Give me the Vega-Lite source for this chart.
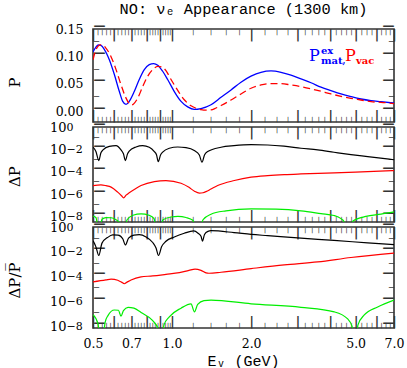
{
"$schema": "https://vega.github.io/schema/vega-lite/v6.json",
"autosize": {"type": "pad"},
"padding": {"left": 6, "top": 0, "right": 0, "bottom": 0},
"background": "white",
"config": {
  "view": {"stroke": "#333333", "strokeWidth": 1.6},
  "font": "DejaVu Serif",
  "axis": {"grid": false, "domain": false, "ticks": false, "labelFont": "DejaVu Serif", "labelFontSize": 12.5, "labelFontWeight": "bold", "labelColor": "#000", "titleFont": "DejaVu Serif", "titleFontWeight": "normal", "titleColor": "#000", "titleFontSize": 15}
},
"datasets": {
  "top": [
    {"E":0.5,"P":0.108,"s":"mat"},{"E":0.513,"P":0.117,"s":"mat"},{"E":0.524,"P":0.121,"s":"mat"},{"E":0.536,"P":0.12,"s":"mat"},{"E":0.552,"P":0.113,"s":"mat"},{"E":0.577,"P":0.094,"s":"mat"},{"E":0.603,"P":0.067,"s":"mat"},{"E":0.63,"P":0.036,"s":"mat"},{"E":0.649,"P":0.018,"s":"mat"},{"E":0.668,"P":0.0125,"s":"mat"},{"E":0.687,"P":0.018,"s":"mat"},{"E":0.718,"P":0.036,"s":"mat"},{"E":0.75,"P":0.058,"s":"mat"},{"E":0.784,"P":0.076,"s":"mat"},{"E":0.819,"P":0.085,"s":"mat"},{"E":0.851,"P":0.087,"s":"mat"},{"E":0.882,"P":0.084,"s":"mat"},{"E":0.921,"P":0.073,"s":"mat"},{"E":0.962,"P":0.058,"s":"mat"},{"E":1.02,"P":0.036,"s":"mat"},{"E":1.082,"P":0.018,"s":"mat"},{"E":1.147,"P":0.008,"s":"mat"},{"E":1.215,"P":0.0035,"s":"mat"},{"E":1.289,"P":0.005,"s":"mat"},{"E":1.407,"P":0.012,"s":"mat"},{"E":1.536,"P":0.0255,"s":"mat"},{"E":1.677,"P":0.039,"s":"mat"},{"E":1.83,"P":0.053,"s":"mat"},{"E":1.998,"P":0.064,"s":"mat"},{"E":2.181,"P":0.071,"s":"mat"},{"E":2.381,"P":0.0735,"s":"mat"},{"E":2.599,"P":0.071,"s":"mat"},{"E":2.837,"P":0.066,"s":"mat"},{"E":3.097,"P":0.059,"s":"mat"},{"E":3.381,"P":0.052,"s":"mat"},{"E":3.691,"P":0.044,"s":"mat"},{"E":4.029,"P":0.0376,"s":"mat"},{"E":4.398,"P":0.0316,"s":"mat"},{"E":4.8,"P":0.0267,"s":"mat"},{"E":5.24,"P":0.0224,"s":"mat"},{"E":5.72,"P":0.0194,"s":"mat"},{"E":6.245,"P":0.0175,"s":"mat"},{"E":7.0,"P":0.015,"s":"mat"},
    {"E":0.5,"P":0.094,"s":"vac"},{"E":0.513,"P":0.112,"s":"vac"},{"E":0.533,"P":0.121,"s":"vac"},{"E":0.545,"P":0.121,"s":"vac"},{"E":0.556,"P":0.117,"s":"vac"},{"E":0.585,"P":0.1,"s":"vac"},{"E":0.612,"P":0.076,"s":"vac"},{"E":0.639,"P":0.0485,"s":"vac"},{"E":0.668,"P":0.024,"s":"vac"},{"E":0.687,"P":0.014,"s":"vac"},{"E":0.698,"P":0.0115,"s":"vac"},{"E":0.712,"P":0.013,"s":"vac"},{"E":0.74,"P":0.024,"s":"vac"},{"E":0.773,"P":0.045,"s":"vac"},{"E":0.808,"P":0.064,"s":"vac"},{"E":0.844,"P":0.076,"s":"vac"},{"E":0.882,"P":0.082,"s":"vac"},{"E":0.913,"P":0.081,"s":"vac"},{"E":0.948,"P":0.074,"s":"vac"},{"E":0.991,"P":0.058,"s":"vac"},{"E":1.051,"P":0.038,"s":"vac"},{"E":1.113,"P":0.021,"s":"vac"},{"E":1.181,"P":0.01,"s":"vac"},{"E":1.252,"P":0.0045,"s":"vac"},{"E":1.289,"P":0.003,"s":"vac"},{"E":1.35,"P":0.002,"s":"vac"},{"E":1.407,"P":0.0025,"s":"vac"},{"E":1.47,"P":0.006,"s":"vac"},{"E":1.536,"P":0.0105,"s":"vac"},{"E":1.677,"P":0.0206,"s":"vac"},{"E":1.83,"P":0.0316,"s":"vac"},{"E":1.998,"P":0.042,"s":"vac"},{"E":2.181,"P":0.048,"s":"vac"},{"E":2.381,"P":0.0504,"s":"vac"},{"E":2.599,"P":0.0504,"s":"vac"},{"E":2.837,"P":0.048,"s":"vac"},{"E":3.097,"P":0.045,"s":"vac"},{"E":3.381,"P":0.041,"s":"vac"},{"E":3.691,"P":0.0365,"s":"vac"},{"E":4.029,"P":0.0316,"s":"vac"},{"E":4.398,"P":0.0274,"s":"vac"},{"E":4.8,"P":0.0237,"s":"vac"},{"E":5.24,"P":0.0206,"s":"vac"},{"E":5.72,"P":0.0175,"s":"vac"},{"E":6.245,"P":0.0164,"s":"vac"},{"E":7.0,"P":0.0139,"s":"vac"}
  ],
  "dp": [
    {"E":0.5,"v":1.55e-2,"s":"k"},{"E":0.513,"v":6.31e-3,"s":"k"},{"E":0.526,"v":1.0e-3,"s":"k"},{"E":0.536,"v":5.01e-3,"s":"k"},{"E":0.546,"v":8.91e-3,"s":"k"},{"E":0.577,"v":1.86e-2,"s":"k"},{"E":0.612,"v":2.14e-2,"s":"k"},{"E":0.639,"v":8.91e-3,"s":"k"},{"E":0.653,"v":3.98e-3,"s":"k"},{"E":0.664,"v":1.0e-3,"s":"k"},{"E":0.677,"v":3.98e-3,"s":"k"},{"E":0.687,"v":7.08e-3,"s":"k"},{"E":0.729,"v":1.62e-2,"s":"k"},{"E":0.773,"v":2.14e-2,"s":"k"},{"E":0.819,"v":1.55e-2,"s":"k"},{"E":0.856,"v":6.31e-3,"s":"k"},{"E":0.873,"v":3.16e-3,"s":"k"},{"E":0.886,"v":7.94e-4,"s":"k"},{"E":0.904,"v":3.16e-3,"s":"k"},{"E":0.921,"v":5.62e-3,"s":"k"},{"E":0.976,"v":1.26e-2,"s":"k"},{"E":1.051,"v":1.62e-2,"s":"k"},{"E":1.13,"v":1.41e-2,"s":"k"},{"E":1.215,"v":7.94e-3,"s":"k"},{"E":1.27,"v":3.16e-3,"s":"k"},{"E":1.3,"v":7.08e-4,"s":"k"},{"E":1.329,"v":3.16e-3,"s":"k"},{"E":1.367,"v":6.31e-3,"s":"k"},{"E":1.536,"v":1.55e-2,"s":"k"},{"E":1.721,"v":2.14e-2,"s":"k"},{"E":2.0,"v":2.63e-2,"s":"k"},{"E":2.313,"v":2.45e-2,"s":"k"},{"E":2.668,"v":1.91e-2,"s":"k"},{"E":3.097,"v":1.26e-2,"s":"k"},{"E":3.585,"v":8.91e-3,"s":"k"},{"E":4.136,"v":5.5e-3,"s":"k"},{"E":4.8,"v":3.39e-3,"s":"k"},{"E":5.558,"v":2.24e-3,"s":"k"},{"E":7.0,"v":1.17e-3,"s":"k"},
    {"E":0.5,"v":5.75e-6,"s":"r"},{"E":0.536,"v":6.61e-6,"s":"r"},{"E":0.56,"v":5.62e-6,"s":"r"},{"E":0.586,"v":4.17e-6,"s":"r"},{"E":0.621,"v":1.48e-6,"s":"r"},{"E":0.642,"v":7.08e-7,"s":"r"},{"E":0.654,"v":4.57e-7,"s":"r"},{"E":0.668,"v":7.94e-7,"s":"r"},{"E":0.687,"v":1.29e-6,"s":"r"},{"E":0.723,"v":2.82e-6,"s":"r"},{"E":0.762,"v":5.75e-6,"s":"r"},{"E":0.856,"v":1.32e-5,"s":"r"},{"E":0.948,"v":1.62e-5,"s":"r"},{"E":1.082,"v":9.33e-6,"s":"r"},{"E":1.16,"v":3.98e-6,"s":"r"},{"E":1.217,"v":1.78e-6,"s":"r"},{"E":1.27,"v":1.2e-6,"s":"r"},{"E":1.312,"v":1.32e-6,"s":"r"},{"E":1.347,"v":1.66e-6,"s":"r"},{"E":1.407,"v":2.82e-6,"s":"r"},{"E":1.492,"v":5.75e-6,"s":"r"},{"E":1.726,"v":1.62e-5,"s":"r"},{"E":2.0,"v":3.24e-5,"s":"r"},{"E":2.313,"v":4.47e-5,"s":"r"},{"E":2.675,"v":5.5e-5,"s":"r"},{"E":3.097,"v":6.31e-5,"s":"r"},{"E":4.147,"v":7.76e-5,"s":"r"},{"E":5.558,"v":1.02e-4,"s":"r"},{"E":7.0,"v":1.26e-4,"s":"r"},
    {"E":0.5,"v":1.07e-8,"s":"g"},{"E":0.513,"v":7.94e-9,"s":"g"},{"E":0.527,"v":3e-10,"s":"g"},{"E":0.541,"v":5.62e-9,"s":"g"},{"E":0.56,"v":7.94e-9,"s":"g"},{"E":0.586,"v":7.59e-9,"s":"g"},{"E":0.612,"v":5.01e-9,"s":"g"},{"E":0.628,"v":3.16e-9,"s":"g"},{"E":0.65,"v":1e-10,"s":"g"},{"E":0.674,"v":5.01e-9,"s":"g"},{"E":0.71,"v":1.26e-8,"s":"g"},{"E":0.762,"v":1.7e-8,"s":"g"},{"E":0.817,"v":1.26e-8,"s":"g"},{"E":0.854,"v":6.31e-9,"s":"g"},{"E":0.884,"v":1e-10,"s":"g"},{"E":0.924,"v":5.01e-9,"s":"g"},{"E":0.991,"v":8.91e-9,"s":"g"},{"E":1.053,"v":1.0e-8,"s":"g"},{"E":1.13,"v":7.94e-9,"s":"g"},{"E":1.2,"v":4.47e-9,"s":"g"},{"E":1.255,"v":1e-10,"s":"g"},{"E":1.312,"v":5.01e-9,"s":"g"},{"E":1.407,"v":1.58e-8,"s":"g"},{"E":1.605,"v":3.16e-8,"s":"g"},{"E":2.0,"v":4.79e-8,"s":"g"},{"E":2.487,"v":4.47e-8,"s":"g"},{"E":3.097,"v":3.16e-8,"s":"g"},{"E":3.691,"v":1.78e-8,"s":"g"},{"E":4.136,"v":1.2e-8,"s":"g"},{"E":4.398,"v":6.31e-9,"s":"g"},{"E":4.515,"v":3.55e-9,"s":"g"},{"E":4.676,"v":1e-10,"s":"g"},{"E":4.885,"v":3.98e-9,"s":"g"},{"E":5.475,"v":1.0e-8,"s":"g"},{"E":6.245,"v":1.58e-8,"s":"g"},{"E":7.0,"v":2.51e-8,"s":"g"}
  ],
  "rel": [
    {"E":0.5,"v":7.94e-2,"s":"k"},{"E":0.513,"v":2.5e-2,"s":"k"},{"E":0.526,"v":5.01e-3,"s":"k"},{"E":0.541,"v":5.01e-2,"s":"k"},{"E":0.568,"v":1.41e-1,"s":"k"},{"E":0.594,"v":2.29e-1,"s":"k"},{"E":0.623,"v":2.24e-1,"s":"k"},{"E":0.649,"v":1.12e-1,"s":"k"},{"E":0.664,"v":3.55e-2,"s":"k"},{"E":0.683,"v":1.26e-1,"s":"k"},{"E":0.716,"v":2.24e-1,"s":"k"},{"E":0.75,"v":2.4e-1,"s":"k"},{"E":0.796,"v":1.58e-1,"s":"k"},{"E":0.844,"v":5.62e-2,"s":"k"},{"E":0.869,"v":2.0e-2,"s":"k"},{"E":0.888,"v":5.01e-3,"s":"k"},{"E":0.912,"v":2.51e-2,"s":"k"},{"E":0.948,"v":7.08e-2,"s":"k"},{"E":1.02,"v":1.58e-1,"s":"k"},{"E":1.113,"v":3.16e-1,"s":"k"},{"E":1.209,"v":4.79e-1,"s":"k"},{"E":1.256,"v":3.16e-1,"s":"k"},{"E":1.289,"v":1.78e-1,"s":"k"},{"E":1.306,"v":7.08e-2,"s":"k"},{"E":1.329,"v":2.51e-1,"s":"k"},{"E":1.37,"v":4.47e-1,"s":"k"},{"E":1.407,"v":5.01e-1,"s":"k"},{"E":1.721,"v":3.55e-1,"s":"k"},{"E":2.0,"v":2.51e-1,"s":"k"},{"E":2.313,"v":2.0e-1,"s":"k"},{"E":3.097,"v":1.26e-1,"s":"k"},{"E":4.136,"v":8.32e-2,"s":"k"},{"E":5.558,"v":5.25e-2,"s":"k"},{"E":7.0,"v":3.72e-2,"s":"k"},
    {"E":0.5,"v":3.72e-5,"s":"r"},{"E":0.56,"v":5.37e-5,"s":"r"},{"E":0.586,"v":6.31e-5,"s":"r"},{"E":0.621,"v":5.01e-5,"s":"r"},{"E":0.642,"v":3.55e-5,"s":"r"},{"E":0.658,"v":2.63e-5,"s":"r"},{"E":0.674,"v":3.55e-5,"s":"r"},{"E":0.698,"v":5.37e-5,"s":"r"},{"E":0.762,"v":9.55e-5,"s":"r"},{"E":0.844,"v":1.12e-4,"s":"r"},{"E":0.948,"v":1.51e-4,"s":"r"},{"E":1.066,"v":2.09e-4,"s":"r"},{"E":1.16,"v":3.16e-4,"s":"r"},{"E":1.223,"v":3.98e-4,"s":"r"},{"E":1.289,"v":3.16e-4,"s":"r"},{"E":1.347,"v":2.0e-4,"s":"r"},{"E":1.382,"v":1.86e-4,"s":"r"},{"E":1.536,"v":2.24e-4,"s":"r"},{"E":2.0,"v":4.37e-4,"s":"r"},{"E":2.675,"v":8.71e-4,"s":"r"},{"E":3.585,"v":1.51e-3,"s":"r"},{"E":4.8,"v":3.47e-3,"s":"r"},{"E":7.0,"v":7.94e-3,"s":"r"},
    {"E":0.5,"v":8.32e-8,"s":"g"},{"E":0.522,"v":1.58e-8,"s":"g"},{"E":0.539,"v":1e-10,"s":"g"},{"E":0.556,"v":2.0e-8,"s":"g"},{"E":0.57,"v":7.08e-8,"s":"g"},{"E":0.603,"v":2.0e-7,"s":"g"},{"E":0.625,"v":1.91e-7,"s":"g"},{"E":0.639,"v":6.31e-8,"s":"g"},{"E":0.653,"v":1.78e-7,"s":"g"},{"E":0.68,"v":3.31e-7,"s":"g"},{"E":0.716,"v":2.82e-7,"s":"g"},{"E":0.762,"v":1.26e-7,"s":"g"},{"E":0.844,"v":2.75e-8,"s":"g"},{"E":0.884,"v":6.31e-9,"s":"g"},{"E":0.908,"v":1e-10,"s":"g"},{"E":0.932,"v":1.26e-8,"s":"g"},{"E":0.976,"v":5.62e-8,"s":"g"},{"E":1.082,"v":2.82e-7,"s":"g"},{"E":1.181,"v":6.31e-7,"s":"g"},{"E":1.217,"v":1.41e-7,"s":"g"},{"E":1.252,"v":5.62e-7,"s":"g"},{"E":1.323,"v":1.15e-6,"s":"g"},{"E":1.407,"v":1.26e-6,"s":"g"},{"E":2.0,"v":6.31e-7,"s":"g"},{"E":3.097,"v":3.31e-7,"s":"g"},{"E":4.147,"v":1.41e-7,"s":"g"},{"E":4.664,"v":3.8e-8,"s":"g"},{"E":4.843,"v":1.0e-8,"s":"g"},{"E":4.972,"v":1e-10,"s":"g"},{"E":5.105,"v":1.26e-8,"s":"g"},{"E":5.394,"v":7.94e-8,"s":"g"},{"E":6.067,"v":3.55e-7,"s":"g"},{"E":7.0,"v":1.29e-6,"s":"g"}
  ]
},
"spacing": 5,
"bounds": "flush",
"vconcat": [
{
  "width": 301, "height": 93,
  "title": {"text": "NO: νₑ Appearance (1300 km)", "fontSize": 15.3, "fontWeight": "normal", "font": "Liberation Mono", "offset": 2, "anchor": "middle", "frame": "group", "color": "#000"},
  "data": {"name": "top"},
  "layer": [
    {"transform": [{"filter": "datum.s == 'mat'"}],
     "mark": {"type": "line", "color": "#0000ff", "strokeWidth": 1.3, "clip": true, "interpolate": "monotone"},
     "encoding": {
       "x": {"field": "E", "type": "quantitative", "scale": {"type": "log", "domain": [0.5, 7], "nice": false}, "axis": {"orient": "bottom", "values": [0.5,0.6,0.7,0.8,0.9,1,2,3,4,5,6,7], "labelExpr": "'|'", "labelFont": "DejaVu Sans", "labelFontSize": 12, "labelBaseline": "alphabetic", "labelPadding": -2.8, "labelColor": "#333333", "labelFlush": false, "labelOverlap": false, "labelAngle": 0, "title": null}},
       "y": {"field": "P", "type": "quantitative", "scale": {"domain": [-0.0195, 0.15], "nice": false, "zero": false}, "axis": {"orient": "left", "values": [0, 0.05, 0.1, 0.15], "format": ".2f", "labelFontWeight": "normal", "labelPadding": 10, "labelFlush": false, "labelOverlap": false, "title": "P", "titleX": -71, "titleY": 53, "titleAngle": 270, "titleBaseline": "bottom"}}
     }},
    {"transform": [{"filter": "datum.s == 'vac'"}],
     "mark": {"type": "line", "color": "#ff0000", "strokeWidth": 1.3, "strokeDash": [7, 4], "clip": true, "interpolate": "monotone"},
     "encoding": {
       "x": {"field": "E", "type": "quantitative", "axis": {"orient": "top", "values": [0.5,0.6,0.7,0.8,0.9,1,2,3,4,5,6,7], "labelExpr": "'|'", "labelFont": "DejaVu Sans", "labelFontSize": 12, "labelBaseline": "alphabetic", "labelPadding": -9.1, "labelColor": "#333333", "labelFlush": false, "labelOverlap": false, "labelAngle": 0, "title": null}},
       "y": {"field": "P", "type": "quantitative", "axis": {"orient": "right", "values": [0, 0.05, 0.1, 0.15], "labelExpr": "'—'", "labelFont": "DejaVu Sans", "labelFontSize": 12, "labelBaseline": "alphabetic", "labelDy": 3.5, "labelAlign": "right", "labelPadding": 0, "labelColor": "#333333", "labelFlush": false, "labelOverlap": false, "title": null}}
     }},
    {"transform": [{"filter": "datum.s == 'vac'"}],
     "mark": {"type": "line", "strokeOpacity": 0},
     "encoding": {
       "x": {"field": "E", "type": "quantitative", "axis": {"orient": "bottom", "values": [0.52,0.54,0.56,0.58,0.62,0.64,0.66,0.68,0.72,0.74,0.76,0.78,0.82,0.84,0.86,0.88,0.92,0.94,0.96,0.98,1.2,1.4,1.6,1.8,2.25,2.5,2.75,3.2,3.4,3.6,3.8,4.2,4.4,4.6,4.8,5.25,5.5,5.75,6.25,6.5,6.75], "labelExpr": "'|'", "labelFont": "DejaVu Sans", "labelFontSize": 5.5, "labelBaseline": "alphabetic", "labelPadding": -1.3, "labelColor": "#333333", "labelFlush": false, "labelOverlap": false, "labelAngle": 0, "title": null}},
       "y": {"field": "P", "type": "quantitative", "axis": {"orient": "left", "values": [0.025, 0.075, 0.125], "labelExpr": "'—'", "labelFont": "DejaVu Sans", "labelFontSize": 6, "labelBaseline": "alphabetic", "labelDy": 1.75, "labelAlign": "left", "labelPadding": 0, "labelColor": "#333333", "labelFlush": false, "labelOverlap": false, "title": null}}
     }},
    {"transform": [{"filter": "datum.s == 'vac'"}],
     "mark": {"type": "line", "strokeOpacity": 0},
     "encoding": {
       "x": {"field": "E", "type": "quantitative", "axis": {"orient": "top", "values": [0.52,0.54,0.56,0.58,0.62,0.64,0.66,0.68,0.72,0.74,0.76,0.78,0.82,0.84,0.86,0.88,0.92,0.94,0.96,0.98,1.2,1.4,1.6,1.8,2.25,2.5,2.75,3.2,3.4,3.6,3.8,4.2,4.4,4.6,4.8,5.25,5.5,5.75,6.25,6.5,6.75], "labelExpr": "'|'", "labelFont": "DejaVu Sans", "labelFontSize": 5.5, "labelBaseline": "alphabetic", "labelPadding": -4.2, "labelColor": "#333333", "labelFlush": false, "labelOverlap": false, "labelAngle": 0, "title": null}},
       "y": {"field": "P", "type": "quantitative", "axis": {"orient": "right", "values": [0.025, 0.075, 0.125], "labelExpr": "'—'", "labelFont": "DejaVu Sans", "labelFontSize": 6, "labelBaseline": "alphabetic", "labelDy": 1.75, "labelAlign": "right", "labelPadding": 0, "labelColor": "#333333", "labelFlush": false, "labelOverlap": false, "title": null}}
     }},
    {"transform": [{"filter": "datum.s == 'vac'"}],
     "mark": {"type": "line", "strokeOpacity": 0},
     "encoding": {
       "x": {"field": "E", "type": "quantitative", "axis": null},
       "y": {"field": "P", "type": "quantitative", "axis": {"orient": "left", "values": [0, 0.05, 0.1, 0.15], "labelExpr": "'—'", "labelFont": "DejaVu Sans", "labelFontSize": 12, "labelBaseline": "alphabetic", "labelDy": 3.5, "labelAlign": "left", "labelPadding": 0, "labelColor": "#333333", "labelFlush": false, "labelOverlap": false, "title": null}}
     }},
    {"data": {"values": [{}]},
     "mark": {"type": "text", "text": "P", "color": "#0000ff", "fontSize": 16, "align": "left", "baseline": "middle", "font": "DejaVu Serif"},
     "encoding": {"x": {"datum": 3.32, "type": "quantitative", "axis": null}, "y": {"datum": 0.1, "type": "quantitative", "axis": null}}},
    {"data": {"values": [{}]},
     "mark": {"type": "text", "text": "ex", "color": "#0000ff", "fontSize": 10, "fontWeight": "bold", "align": "left", "baseline": "middle", "dx": 12, "dy": -5.5, "font": "DejaVu Serif"},
     "encoding": {"x": {"datum": 3.32, "type": "quantitative", "axis": null}, "y": {"datum": 0.1, "type": "quantitative", "axis": null}}},
    {"data": {"values": [{}]},
     "mark": {"type": "text", "text": "mat", "color": "#0000ff", "fontSize": 10, "fontWeight": "bold", "align": "left", "baseline": "middle", "dx": 12, "dy": 4.5, "font": "DejaVu Serif"},
     "encoding": {"x": {"datum": 3.32, "type": "quantitative", "axis": null}, "y": {"datum": 0.1, "type": "quantitative", "axis": null}}},
    {"data": {"values": [{}]},
     "mark": {"type": "text", "text": ",", "color": "#0000ff", "fontSize": 12, "align": "left", "baseline": "middle", "dx": 33, "dy": 3, "font": "DejaVu Serif"},
     "encoding": {"x": {"datum": 3.32, "type": "quantitative", "axis": null}, "y": {"datum": 0.1, "type": "quantitative", "axis": null}}},
    {"data": {"values": [{}]},
     "mark": {"type": "text", "text": "P", "color": "#ff0000", "fontSize": 16, "align": "left", "baseline": "middle", "dx": 36, "font": "DejaVu Serif"},
     "encoding": {"x": {"datum": 3.32, "type": "quantitative", "axis": null}, "y": {"datum": 0.1, "type": "quantitative", "axis": null}}},
    {"data": {"values": [{}]},
     "mark": {"type": "text", "text": "vac", "color": "#ff0000", "fontSize": 10, "fontWeight": "bold", "align": "left", "baseline": "middle", "dx": 47, "dy": 4.5, "font": "DejaVu Serif"},
     "encoding": {"x": {"datum": 3.32, "type": "quantitative", "axis": null}, "y": {"datum": 0.1, "type": "quantitative", "axis": null}}}
  ],
  "resolve": {"axis": {"x": "independent", "y": "independent"}}
},
{
  "width": 301, "height": 95,
  "data": {"name": "dp"},
  "layer": [
    {"transform": [{"filter": "datum.s == 'k'"}],
     "mark": {"type": "line", "color": "#000000", "strokeWidth": 1.2, "clip": true, "interpolate": "monotone"},
     "encoding": {
       "x": {"field": "E", "type": "quantitative", "scale": {"type": "log", "domain": [0.5, 7], "nice": false}, "axis": {"orient": "bottom", "values": [0.5,0.6,0.7,0.8,0.9,1,2,3,4,5,6,7], "labelExpr": "'|'", "labelFont": "DejaVu Sans", "labelFontSize": 12, "labelBaseline": "alphabetic", "labelPadding": -2.8, "labelColor": "#333333", "labelFlush": false, "labelOverlap": false, "labelAngle": 0, "title": null}},
       "y": {"field": "v", "type": "quantitative", "scale": {"type": "log", "domain": [3.162e-9, 1], "nice": false}, "axis": {"orient": "left", "values": [1e-8, 1e-6, 1e-4, 1e-2, 1], "labelFontWeight": "normal", "labelPadding": 27, "labelFontSize": 13, "labelFlush": false, "labelOverlap": false, "labelExpr": "'10'", "title": "ΔP", "titleX": -71, "titleY": 49, "titleAngle": 270, "titleBaseline": "bottom"}}
     }},
    {"transform": [{"filter": "datum.s == 'r'"}],
     "mark": {"type": "line", "color": "#ff0000", "strokeWidth": 1.2, "clip": true, "interpolate": "monotone"},
     "encoding": {
       "x": {"field": "E", "type": "quantitative", "axis": {"orient": "top", "values": [0.5,0.6,0.7,0.8,0.9,1,2,3,4,5,6,7], "labelExpr": "'|'", "labelFont": "DejaVu Sans", "labelFontSize": 12, "labelBaseline": "alphabetic", "labelPadding": -9.1, "labelColor": "#333333", "labelFlush": false, "labelOverlap": false, "labelAngle": 0, "title": null}},
       "y": {"field": "v", "type": "quantitative", "axis": {"orient": "right", "values": [1e-8, 1e-6, 1e-4, 1e-2, 1], "labelExpr": "'—'", "labelFont": "DejaVu Sans", "labelFontSize": 12, "labelBaseline": "alphabetic", "labelDy": 3.5, "labelAlign": "right", "labelPadding": 0, "labelColor": "#333333", "labelFlush": false, "labelOverlap": false, "title": null}}
     }},
    {"transform": [{"filter": "datum.s == 'g'"}],
     "mark": {"type": "line", "color": "#00ee00", "strokeWidth": 1.2, "clip": true, "interpolate": "monotone"},
     "encoding": {
       "x": {"field": "E", "type": "quantitative", "axis": {"orient": "bottom", "values": [0.52,0.54,0.56,0.58,0.62,0.64,0.66,0.68,0.72,0.74,0.76,0.78,0.82,0.84,0.86,0.88,0.92,0.94,0.96,0.98,1.2,1.4,1.6,1.8,2.25,2.5,2.75,3.2,3.4,3.6,3.8,4.2,4.4,4.6,4.8,5.25,5.5,5.75,6.25,6.5,6.75], "labelExpr": "'|'", "labelFont": "DejaVu Sans", "labelFontSize": 5.5, "labelBaseline": "alphabetic", "labelPadding": -1.3, "labelColor": "#333333", "labelFlush": false, "labelOverlap": false, "labelAngle": 0, "title": null}},
       "y": {"field": "v", "type": "quantitative", "axis": {"orient": "left", "values": [1e-7, 1e-5, 1e-3, 1e-1], "labelExpr": "'—'", "labelFont": "DejaVu Sans", "labelFontSize": 6, "labelBaseline": "alphabetic", "labelDy": 1.75, "labelAlign": "left", "labelPadding": 0, "labelColor": "#333333", "labelFlush": false, "labelOverlap": false, "title": null}}
     }},
    {"transform": [{"filter": "datum.s == 'r'"}],
     "mark": {"type": "line", "strokeOpacity": 0},
     "encoding": {
       "x": {"field": "E", "type": "quantitative", "axis": {"orient": "top", "values": [0.52,0.54,0.56,0.58,0.62,0.64,0.66,0.68,0.72,0.74,0.76,0.78,0.82,0.84,0.86,0.88,0.92,0.94,0.96,0.98,1.2,1.4,1.6,1.8,2.25,2.5,2.75,3.2,3.4,3.6,3.8,4.2,4.4,4.6,4.8,5.25,5.5,5.75,6.25,6.5,6.75], "labelExpr": "'|'", "labelFont": "DejaVu Sans", "labelFontSize": 5.5, "labelBaseline": "alphabetic", "labelPadding": -4.2, "labelColor": "#333333", "labelFlush": false, "labelOverlap": false, "labelAngle": 0, "title": null}},
       "y": {"field": "v", "type": "quantitative", "axis": {"orient": "right", "values": [1e-7, 1e-5, 1e-3, 1e-1], "labelExpr": "'—'", "labelFont": "DejaVu Sans", "labelFontSize": 6, "labelBaseline": "alphabetic", "labelDy": 1.75, "labelAlign": "right", "labelPadding": 0, "labelColor": "#333333", "labelFlush": false, "labelOverlap": false, "title": null}}
     }},
    {"transform": [{"filter": "datum.s == 'r'"}],
     "mark": {"type": "line", "strokeOpacity": 0},
     "encoding": {
       "x": {"field": "E", "type": "quantitative", "axis": null},
       "y": {"field": "v", "type": "quantitative", "axis": {"orient": "left", "values": [1e-8, 1e-6, 1e-4, 1e-2, 1], "labelExpr": "'—'", "labelFont": "DejaVu Sans", "labelFontSize": 12, "labelBaseline": "alphabetic", "labelDy": 3.5, "labelAlign": "left", "labelPadding": 0, "labelColor": "#333333", "labelFlush": false, "labelOverlap": false, "title": null}}
     }},
    {"transform": [{"filter": "datum.s == 'r'"}],
     "mark": {"type": "line", "strokeOpacity": 0},
     "encoding": {
       "x": {"field": "E", "type": "quantitative", "axis": null},
       "y": {"field": "v", "type": "quantitative", "axis": {"orient": "left", "values": [1e-8, 1e-6, 1e-4, 1e-2, 1], "labelFontWeight": "normal", "labelPadding": 27, "labelAlign": "left", "labelDy": -5, "labelFontSize": 11, "labelFlush": false, "labelOverlap": false, "labelExpr": "datum.value > 0.5 ? '0' : datum.value > 1e-3 ? '−2' : datum.value > 1e-5 ? '−4' : datum.value > 1e-7 ? '−6' : '−8'", "title": null}}
     }}
  ],
  "resolve": {"axis": {"x": "independent", "y": "independent"}}
},
{
  "width": 301, "height": 101,
  "data": {"name": "rel"},
  "layer": [
    {"transform": [{"filter": "datum.s == 'k'"}],
     "mark": {"type": "line", "color": "#000000", "strokeWidth": 1.2, "clip": true, "interpolate": "monotone"},
     "encoding": {
       "x": {"field": "E", "type": "quantitative", "scale": {"type": "log", "domain": [0.5, 7], "nice": false}, "axis": {"orient": "bottom", "values": [0.5,0.6,0.7,0.8,0.9,1,2,3,4,5,6,7], "labelExpr": "'|'", "labelFont": "DejaVu Sans", "labelFontSize": 12, "labelBaseline": "alphabetic", "labelPadding": -2.8, "labelColor": "#333333", "labelFlush": false, "labelOverlap": false, "labelAngle": 0, "title": null}},
       "y": {"field": "v", "type": "quantitative", "scale": {"type": "log", "domain": [7.08e-9, 1], "nice": false}, "axis": {"orient": "left", "values": [1e-8, 1e-6, 1e-4, 1e-2, 1], "labelFontWeight": "normal", "labelPadding": 27, "labelFontSize": 13, "labelFlush": false, "labelOverlap": false, "labelExpr": "'10'", "title": "ΔP/P̅", "titleX": -71, "titleY": 53, "titleAngle": 270, "titleBaseline": "bottom"}}
     }},
    {"transform": [{"filter": "datum.s == 'r'"}],
     "mark": {"type": "line", "color": "#ff0000", "strokeWidth": 1.2, "clip": true, "interpolate": "monotone"},
     "encoding": {
       "x": {"field": "E", "type": "quantitative", "axis": {"orient": "top", "values": [0.5,0.6,0.7,0.8,0.9,1,2,3,4,5,6,7], "labelExpr": "'|'", "labelFont": "DejaVu Sans", "labelFontSize": 12, "labelBaseline": "alphabetic", "labelPadding": -9.1, "labelColor": "#333333", "labelFlush": false, "labelOverlap": false, "labelAngle": 0, "title": null}},
       "y": {"field": "v", "type": "quantitative", "axis": {"orient": "right", "values": [1e-8, 1e-6, 1e-4, 1e-2, 1], "labelExpr": "'—'", "labelFont": "DejaVu Sans", "labelFontSize": 12, "labelBaseline": "alphabetic", "labelDy": 3.5, "labelAlign": "right", "labelPadding": 0, "labelColor": "#333333", "labelFlush": false, "labelOverlap": false, "title": null}}
     }},
    {"transform": [{"filter": "datum.s == 'g'"}],
     "mark": {"type": "line", "color": "#00ee00", "strokeWidth": 1.2, "clip": true, "interpolate": "monotone"},
     "encoding": {
       "x": {"field": "E", "type": "quantitative", "axis": {"orient": "bottom", "values": [0.52,0.54,0.56,0.58,0.62,0.64,0.66,0.68,0.72,0.74,0.76,0.78,0.82,0.84,0.86,0.88,0.92,0.94,0.96,0.98,1.2,1.4,1.6,1.8,2.25,2.5,2.75,3.2,3.4,3.6,3.8,4.2,4.4,4.6,4.8,5.25,5.5,5.75,6.25,6.5,6.75], "labelExpr": "'|'", "labelFont": "DejaVu Sans", "labelFontSize": 5.5, "labelBaseline": "alphabetic", "labelPadding": -1.3, "labelColor": "#333333", "labelFlush": false, "labelOverlap": false, "labelAngle": 0, "title": null}},
       "y": {"field": "v", "type": "quantitative", "axis": {"orient": "left", "values": [1e-7, 1e-5, 1e-3, 1e-1], "labelExpr": "'—'", "labelFont": "DejaVu Sans", "labelFontSize": 6, "labelBaseline": "alphabetic", "labelDy": 1.75, "labelAlign": "left", "labelPadding": 0, "labelColor": "#333333", "labelFlush": false, "labelOverlap": false, "title": null}}
     }},
    {"transform": [{"filter": "datum.s == 'r'"}],
     "mark": {"type": "line", "strokeOpacity": 0},
     "encoding": {
       "x": {"field": "E", "type": "quantitative", "axis": {"orient": "top", "values": [0.52,0.54,0.56,0.58,0.62,0.64,0.66,0.68,0.72,0.74,0.76,0.78,0.82,0.84,0.86,0.88,0.92,0.94,0.96,0.98,1.2,1.4,1.6,1.8,2.25,2.5,2.75,3.2,3.4,3.6,3.8,4.2,4.4,4.6,4.8,5.25,5.5,5.75,6.25,6.5,6.75], "labelExpr": "'|'", "labelFont": "DejaVu Sans", "labelFontSize": 5.5, "labelBaseline": "alphabetic", "labelPadding": -4.2, "labelColor": "#333333", "labelFlush": false, "labelOverlap": false, "labelAngle": 0, "title": null}},
       "y": {"field": "v", "type": "quantitative", "axis": {"orient": "right", "values": [1e-7, 1e-5, 1e-3, 1e-1], "labelExpr": "'—'", "labelFont": "DejaVu Sans", "labelFontSize": 6, "labelBaseline": "alphabetic", "labelDy": 1.75, "labelAlign": "right", "labelPadding": 0, "labelColor": "#333333", "labelFlush": false, "labelOverlap": false, "title": null}}
     }},
    {"transform": [{"filter": "datum.s == 'r'"}],
     "mark": {"type": "line", "strokeOpacity": 0},
     "encoding": {
       "x": {"field": "E", "type": "quantitative", "axis": {"orient": "bottom", "values": [0.5,0.7,1,2,5,7], "labelFontWeight": "normal", "labelPadding": 9, "labelFlush": false, "labelOverlap": false, "format": ".1f", "title": "Eᵥ (GeV)", "titleFont": "Liberation Mono", "titleX": 150, "titleY": 37, "titleBaseline": "alphabetic"}},
       "y": {"field": "v", "type": "quantitative", "axis": {"orient": "left", "values": [1e-8, 1e-6, 1e-4, 1e-2, 1], "labelExpr": "'—'", "labelFont": "DejaVu Sans", "labelFontSize": 12, "labelBaseline": "alphabetic", "labelDy": 3.5, "labelAlign": "left", "labelPadding": 0, "labelColor": "#333333", "labelFlush": false, "labelOverlap": false, "title": null}}
     }},
    {"transform": [{"filter": "datum.s == 'r'"}],
     "mark": {"type": "line", "strokeOpacity": 0},
     "encoding": {
       "x": {"field": "E", "type": "quantitative", "axis": null},
       "y": {"field": "v", "type": "quantitative", "axis": {"orient": "left", "values": [1e-8, 1e-6, 1e-4, 1e-2, 1], "labelFontWeight": "normal", "labelPadding": 27, "labelAlign": "left", "labelDy": -5, "labelFontSize": 11, "labelFlush": false, "labelOverlap": false, "labelExpr": "datum.value > 0.5 ? '0' : datum.value > 1e-3 ? '−2' : datum.value > 1e-5 ? '−4' : datum.value > 1e-7 ? '−6' : '−8'", "title": null}}
     }}
  ],
  "resolve": {"axis": {"x": "independent", "y": "independent"}}
}
]
}
